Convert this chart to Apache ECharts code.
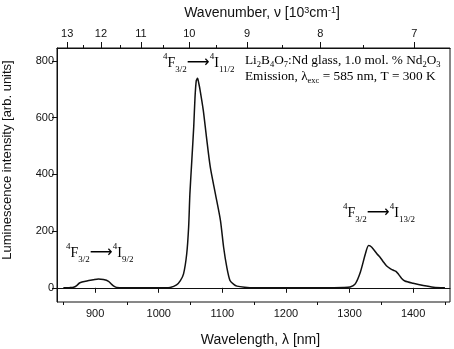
<!DOCTYPE html>
<html>
<head>
<meta charset="utf-8">
<script src="https://cdn.jsdelivr.net/npm/echarts@6/dist/echarts.min.js"></script>
<style>html,body{margin:0;padding:0;background:#fff}#c{width:454px;height:349px}</style>
</head>
<body>
<div id="c"></div>
<script>
// Emission spectrum: wavelength (nm) and luminescence intensity (arb. units)
var wavelength = [850,860,866,871,876,887,897,905,913,921,926,930,934,945,980,1010,1018,1028,1034,1039,1044,1047,1049,1052,1055,1057,1059,1061,1063,1065,1070,1075,1081,1089,1097,1102,1107,1112,1118,1123,1135,1150,1200,1260,1290,1301,1309,1317,1325,1330,1335,1343,1348,1353,1358,1364,1369,1373,1377,1382,1387,1400,1416,1432,1450];
var intensity  = [0,1,2,8,18,24,28,31,29,23,12,5,1,0,0,0,1,10,25,49,120,214,332,449,567,670,730,738,720,697,626,532,426,332,238,143,73,26,12,6,2,0,0,0,1,3,14,55,120,149,143,120,108,92,78,68,62,58,48,33,24,16,8,2,0];

// bottom axis ticks
var xMajorTicks = [900,1000,1100,1200,1300,1400];
var xMinorTicks = [850,950,1050,1150,1250,1350,1450];
// left axis ticks
var yTicks = [0,200,400,600,800];
// top (wavenumber, 10^3 cm^-1) tick labels and where they sit on the wavelength scale
var topTickLabels = [13,12,11,10,9,8,7];
var topTickAt = [856,909,972,1048,1139,1254,1402];
var topMinorAt = [881,939,1007,1090,1194,1321];

var XMIN = 840, XMAX = 1458, YMIN = -50, YMAX = 845;

var data = wavelength.map(function(w,i){ return [w, intensity[i]]; });

var serif = '"Liberation Serif","Times New Roman",serif';
var sans = '"Liberation Sans",Arial,sans-serif';
var richT = {
  m:{fontFamily:serif,fontSize:14,color:'#111',lineHeight:22,verticalAlign:'middle'},
  sup:{fontFamily:serif,fontSize:9,color:'#111',lineHeight:22,verticalAlign:'top'},
  sub:{fontFamily:serif,fontSize:9,color:'#111',lineHeight:22,verticalAlign:'bottom'},
  ar:{fontFamily:'"DejaVu Sans"',fontSize:16,color:'#111',lineHeight:22,verticalAlign:'middle'}
};
var richL = {
  m:{fontFamily:serif,fontSize:13.3,color:'#111',lineHeight:18,verticalAlign:'middle'},
  sub:{fontFamily:serif,fontSize:8.5,color:'#111',lineHeight:18,verticalAlign:'bottom'}
};
function plain(v){ return String(v); }

var chart = echarts.init(document.getElementById('c'), null, {renderer:'canvas'});
chart.setOption({
  animation:false,
  backgroundColor:'#fff',
  grid:{left:57,right:4,top:48,bottom:47,show:true,borderColor:'#111',borderWidth:1,backgroundColor:'transparent',outerBoundsMode:'none',containLabel:false},
  xAxis:[
    {type:'value',position:'bottom',min:XMIN,max:XMAX,
     name:'Wavelength, λ [nm]',nameLocation:'middle',nameGap:31,
     nameTextStyle:{fontFamily:sans,fontSize:14,color:'#111',padding:[0,0,0,14]},
     axisLine:{show:true,lineStyle:{color:'#111',width:1}},
     axisTick:{show:true,inside:false,length:5,customValues:xMajorTicks,lineStyle:{color:'#111'}},
     axisLabel:{show:true,customValues:xMajorTicks,formatter:plain,fontFamily:sans,fontSize:11,color:'#111',margin:6},
     splitLine:{show:false}},
    {type:'value',position:'bottom',min:XMIN,max:XMAX,
     axisLine:{show:false},
     axisTick:{show:true,inside:false,length:3,customValues:xMinorTicks,lineStyle:{color:'#111'}},
     axisLabel:{show:false},splitLine:{show:false}},
    {type:'value',position:'top',min:XMIN,max:XMAX,
     name:'Wavenumber, ν [10{s|3}cm{s|-1}]',nameLocation:'middle',nameGap:28,
     nameTextStyle:{fontFamily:sans,fontSize:14,color:'#111',padding:[0,0,0,17],
       rich:{s:{fontFamily:sans,fontSize:9,color:'#111',verticalAlign:'top',lineHeight:14}}},
     axisLine:{show:true,lineStyle:{color:'#111',width:1}},
     axisTick:{show:true,inside:false,length:6,customValues:topTickAt,lineStyle:{color:'#111'}},
     axisLabel:{show:true,customValues:topTickAt,fontFamily:sans,fontSize:11,color:'#111',margin:9,
       formatter:function(v){var i=topTickAt.indexOf(v);return i>=0?String(topTickLabels[i]):'';}},
     splitLine:{show:false}},
    {type:'value',position:'top',min:XMIN,max:XMAX,
     axisLine:{show:false},
     axisTick:{show:true,inside:false,length:3,customValues:topMinorAt,lineStyle:{color:'#111'}},
     axisLabel:{show:false},splitLine:{show:false}}
  ],
  yAxis:[
    {type:'value',min:YMIN,max:YMAX,
     name:'Luminescence intensity [arb. units]',nameLocation:'middle',nameGap:43,
     nameTextStyle:{fontFamily:sans,fontSize:13,color:'#111',padding:[0,0,0,30]},
     axisLine:{show:true,lineStyle:{color:'#111',width:1}},
     axisTick:{show:true,inside:false,length:5,customValues:yTicks,lineStyle:{color:'#111'}},
     axisLabel:{show:true,customValues:yTicks,formatter:plain,fontFamily:sans,fontSize:11,color:'#111',margin:3},
     splitLine:{show:false}}
  ],
  series:[{
    type:'line',xAxisIndex:0,yAxisIndex:0,data:data,smooth:0.25,showSymbol:false,
    lineStyle:{color:'#111',width:1.5},silent:true
  }],
  graphic:[
    {type:'text',left:163,top:52,style:{text:'{sup|4}{m|F}{sub|3/2}{ar|⟶}{sup|4}{m|I}{sub|11/2}',rich:richT}},
    {type:'text',left:66,top:242,style:{text:'{sup|4}{m|F}{sub|3/2}{ar|⟶}{sup|4}{m|I}{sub|9/2}',rich:richT}},
    {type:'text',left:343,top:202,style:{text:'{sup|4}{m|F}{sub|3/2}{ar|⟶}{sup|4}{m|I}{sub|13/2}',rich:richT}},
    {type:'text',left:245,top:54,style:{text:'{m|Li}{sub|2}{m|B}{sub|4}{m|O}{sub|7}{m|:Nd glass, 1.0 mol. % Nd}{sub|2}{m|O}{sub|3}',rich:richL}},
    {type:'text',left:245,top:70,style:{text:'{m|Emission, λ}{sub|exc}{m| = 585 nm, T = 300 K}',rich:richL}}
  ]
});
</script>
</body>
</html>
